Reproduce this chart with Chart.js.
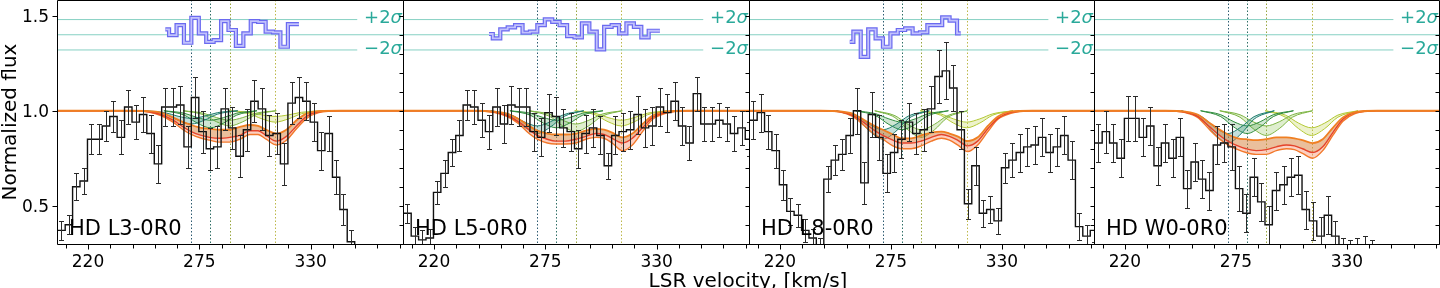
<!DOCTYPE html>
<html>
<head>
<meta charset="utf-8">
<script src="https://cdn.jsdelivr.net/npm/chart.js@4.4.1/dist/chart.umd.min.js"></script>
<style>
  html, body { margin: 0; padding: 0; background: #fff; overflow: hidden; }
  #wrap { position: relative; width: 1440px; height: 288px; }
  #wrap canvas { position: absolute; left: 0; top: 0; }
</style>
</head>
<body>
<div id="wrap">
  <canvas id="p0" width="1440" height="288"></canvas>
  <canvas id="p1" width="1440" height="288"></canvas>
  <canvas id="p2" width="1440" height="288"></canvas>
  <canvas id="p3" width="1440" height="288"></canvas>
</div>
<script>
// ---- data ----
const panelNames = ['HD L3-0R0', 'HD L5-0R0', 'HD L8-0R0', 'HD W0-0R0'];

// velocity bin centres (km/s)
const binVel = [203.2, 206.9, 210.6, 214.2, 217.9, 221.6, 225.2, 228.9, 232.6, 236.2,
  239.9, 243.6, 247.2, 250.9, 254.6, 258.2, 261.9, 265.6, 269.2, 272.9,
  276.6, 280.2, 283.9, 287.6, 291.2, 294.9, 298.6, 302.2, 305.9, 309.6,
  313.2, 316.9, 320.6, 324.2, 327.9, 331.6, 335.2, 338.9, 342.6, 346.2,
  349.9, 353.6, 357.2, 360.9, 364.6, 368.2, 371.9, 375.6, 379.2];

const fluxL3 = [0.37,0.37,0.40,0.60,0.63, 0.85,0.85,0.92,0.97,0.86, 1.02,0.94,0.98,0.88,0.72,
  1.02,1.02,1.03,0.81,1.07, 0.89,0.80,0.81,1.01,0.91, 0.76,0.90,1.05,1.01,0.87,
  0.88,0.72,1.04,1.07,1.05, 0.94,0.79,0.88,0.65,0.48, 0.31,0.22,0.20,0.20,0.20, 0.20,0.20,0.20,0.20];
const errL3 = [0.05,0.05,0.05,0.07,0.07, 0.08,0.08,0.08,0.08,0.09, 0.09,0.09,0.09,0.10,0.10,
  0.10,0.10,0.10,0.11,0.11, 0.11,0.11,0.11,0.11,0.11, 0.11,0.11,0.11,0.11,0.11,
  0.11,0.11,0.11,0.11,0.10, 0.10,0.10,0.09,0.09,0.08, 0.06,0.05,0.05,0.05,0.05, 0.05,0.05,0.05,0.05];

const fluxL5 = [0.46,0.46,0.34,0.32,0.33, 0.57,0.67,0.78,0.87,1.03, 1.02,0.95,0.89,1.02,0.93,
  1.03,1.02,1.02,0.89,0.86, 0.99,0.97,0.91,0.89,0.80, 0.88,0.91,0.87,0.71,0.87,
  0.89,0.90,0.98,0.91,0.92, 1.02,0.99,1.05,0.92,0.83, 1.09,0.93,0.93,0.95,0.93, 0.88,0.91,0.85,0.85];
const errL5 = [0.05,0.05,0.05,0.05,0.05, 0.06,0.07,0.07,0.08,0.08, 0.09,0.09,0.09,0.10,0.10,
  0.10,0.10,0.10,0.10,0.10, 0.10,0.10,0.10,0.10,0.10, 0.10,0.10,0.10,0.07,0.10,
  0.10,0.10,0.10,0.10,0.10, 0.10,0.10,0.10,0.10,0.09, 0.09,0.09,0.09,0.09,0.09, 0.09,0.09,0.09,0.09];

const fluxL8 = [0.95,0.95,0.99,0.89,0.79, 0.61,0.47,0.45,0.37,0.33, 0.28,0.64,0.74,0.77,0.87,
  1.00,0.62,0.98,0.86,0.67, 0.78,0.85,0.94,0.88,0.90, 1.01,1.18,1.21,1.12,0.90,
  0.51,0.71,0.46,0.48,0.42, 0.70,0.74,0.78,0.81,0.82, 0.86,0.78,0.81,0.87,0.74, 0.39,0.34,0.37,0.37];
const errL8 = [0.10,0.10,0.10,0.09,0.09, 0.08,0.07,0.06,0.06,0.05, 0.05,0.07,0.08,0.08,0.09,
  0.12,0.11,0.12,0.12,0.10, 0.10,0.10,0.10,0.11,0.11, 0.12,0.14,0.15,0.12,0.10,
  0.08,0.10,0.07,0.07,0.07, 0.08,0.09,0.10,0.10,0.10, 0.10,0.10,0.10,0.10,0.10, 0.07,0.06,0.06,0.06];

const fluxW0 = [0.83,0.83,0.89,0.83,0.75, 0.96,0.96,0.86,0.92,0.71, 0.83,0.75,0.86,0.59,0.73,
  0.64,0.58,0.82,0.83,0.81, 0.59,0.46,0.65,0.52,0.40, 0.58,0.61,0.65,0.66,0.48,
  0.42,0.34,0.45,0.34,0.25, 0.24,0.25,0.26,0.24,0.15, 0.15,0.15,0.15,0.15,0.15, 0.15,0.15,0.15,0.15];
const errW0 = [0.10,0.10,0.11,0.10,0.10, 0.12,0.12,0.10,0.10,0.10, 0.10,0.10,0.10,0.10,0.10,
  0.10,0.10,0.10,0.10,0.12, 0.12,0.10,0.10,0.10,0.10, 0.10,0.10,0.10,0.10,0.10,
  0.10,0.10,0.10,0.08,0.08, 0.08,0.08,0.08,0.08,0.07, 0.07,0.07,0.07,0.07,0.07, 0.07,0.07,0.07,0.07];

// fit residuals (plotted around 1.40), first bin index into binVel
const resFromL3 = 15;
const resL3 = [1.428,1.398,1.451,1.358,1.489,1.407,1.363,1.372,1.472,1.425,1.341,1.407,1.472,1.468,1.416,1.413,1.337,1.456,1.456];
const resFromL5 = 12;
const resL5 = [1.404,1.381,1.428,1.439,1.451,1.411,1.416,1.451,1.481,1.468,1.451,1.393,1.386,1.460,1.416,1.323,1.442,1.451,1.407,1.460,1.442,1.386,1.421,1.421];
const resFromL8 = 14;
const resL8 = [1.363,1.416,1.284,1.428,1.381,1.337,1.407,1.425,1.434,1.407,1.413,1.451,1.451,1.492,1.474,1.407];

// total model envelope (upper edge, centre, lower edge)
const modelVel = [200, 240, 250, 256, 262, 267, 271, 276, 280, 285, 290, 295, 300, 304, 308, 313, 318, 323, 328, 334, 345, 380];
const topL3 = [1,1,0.998,0.99,0.965,0.94,0.925,0.91,0.905,0.90,0.90,0.915,0.925,0.92,0.90,0.88,0.90,0.95,0.985,0.998,1,1];
const midL3 = [1,1,0.995,0.98,0.95,0.915,0.89,0.87,0.86,0.855,0.86,0.87,0.895,0.895,0.87,0.84,0.865,0.92,0.97,0.995,1,1];
const botL3 = [1,1,0.993,0.975,0.94,0.90,0.875,0.855,0.845,0.835,0.835,0.85,0.875,0.875,0.85,0.82,0.845,0.905,0.96,0.99,1,1];
const topL5 = [1,1,0.995,0.985,0.955,0.92,0.895,0.88,0.875,0.875,0.88,0.895,0.905,0.90,0.885,0.86,0.88,0.93,0.975,0.995,1,1];
const midL5 = [1,1,0.993,0.975,0.94,0.90,0.87,0.85,0.84,0.84,0.85,0.865,0.88,0.875,0.855,0.83,0.855,0.91,0.965,0.99,1,1];
const botL5 = [1,1,0.99,0.97,0.93,0.88,0.85,0.83,0.825,0.825,0.83,0.85,0.86,0.855,0.83,0.79,0.82,0.89,0.955,0.985,1,1];
const topL8 = [1,1,0.997,0.985,0.95,0.92,0.90,0.875,0.855,0.855,0.87,0.885,0.89,0.88,0.865,0.84,0.86,0.92,0.97,0.995,1,1];
const midL8 = [1,1,0.995,0.975,0.935,0.895,0.87,0.845,0.83,0.83,0.84,0.86,0.875,0.865,0.845,0.815,0.84,0.905,0.96,0.99,1,1];
const botL8 = [1,1,0.993,0.97,0.92,0.875,0.85,0.815,0.80,0.80,0.815,0.84,0.855,0.845,0.82,0.785,0.82,0.89,0.955,0.985,1,1];
const topW0 = [1,1,0.995,0.98,0.935,0.90,0.875,0.855,0.85,0.845,0.85,0.86,0.86,0.855,0.845,0.83,0.85,0.91,0.965,0.993,1,1];
const midW0 = [1,1,0.992,0.97,0.915,0.87,0.84,0.815,0.80,0.79,0.795,0.81,0.82,0.815,0.80,0.78,0.81,0.885,0.955,0.99,1,1];
const botW0 = [1,1,0.99,0.965,0.90,0.85,0.82,0.795,0.78,0.77,0.77,0.79,0.80,0.795,0.775,0.75,0.79,0.87,0.945,0.985,1,1];

// four velocity components
const compVel = [271, 280.5, 290, 312.5];
const compSampleVel = [
  [248, 258, 264.5, 271, 277.5, 284, 294],
  [257.5, 267.5, 274, 280.5, 287, 293.5, 303.5],
  [267, 277, 283.5, 290, 296.5, 303, 313],
  [289.5, 299.5, 306, 312.5, 319, 325.5, 335.5]
];
const compHiL3 = [[1,.990,.971,.96,.971,.990,1],[1,.987,.964,.95,.964,.987,1],[1,.987,.964,.95,.964,.987,1],[1,.992,.978,.97,.978,.992,1]];
const compLoL3 = [[1,.982,.950,.93,.950,.982,1],[1,.977,.935,.91,.935,.977,1],[1,.979,.942,.92,.942,.979,1],[1,.984,.957,.94,.957,.984,1]];
const compHiL5 = [[1,.979,.942,.92,.942,.979,1],[1,.987,.964,.95,.964,.987,1],[1,.982,.950,.93,.950,.982,1],[1,.987,.964,.95,.964,.987,1]];
const compLoL5 = [[1,.969,.914,.88,.914,.969,1],[1,.977,.935,.91,.935,.977,1],[1,.971,.921,.89,.921,.971,1],[1,.979,.942,.92,.942,.979,1]];
const compHiL8 = [[1,.974,.928,.90,.928,.974,1],[1,.984,.957,.94,.957,.984,1],[1,.974,.928,.90,.928,.974,1],[1,.984,.957,.94,.957,.984,1]];
const compLoL8 = [[1,.961,.892,.85,.892,.961,1],[1,.974,.928,.90,.928,.974,1],[1,.964,.899,.86,.899,.964,1],[1,.977,.935,.91,.935,.977,1]];
const compHiW0 = [[1,.969,.914,.88,.914,.969,1],[1,.979,.942,.92,.942,.979,1],[1,.979,.942,.92,.942,.979,1],[1,.977,.935,.91,.935,.977,1]];
const compLoW0 = [[1,.956,.878,.83,.878,.956,1],[1,.969,.914,.88,.914,.969,1],[1,.966,.906,.87,.906,.966,1],[1,.966,.906,.87,.906,.966,1]];

// guide lines for the residuals
const sigmaLevels = [1.48, 1.40, 1.32];
const sigmaLineEnd = [353, 380, 353];

// ticks
const xMajorTicks = [220, 275, 330];
const xMinorTicks = [209, 231, 242, 253, 264, 286, 297, 308, 319, 341, 352, 363, 374];
const yMajorTicks = [0.5, 1.0, 1.5];
const yAllTicks = [0.3, 0.4, 0.5, 0.6, 0.7, 0.8, 0.9, 1.0, 1.1, 1.2, 1.3, 1.4, 1.5];

// ---- styling ----
const FONT = '"DejaVu Sans", sans-serif';
const panelLeft = [57, 403, 749, 1094];
const panelWidth = [346, 346, 345, 345];
const compLine = ['#1f7d6e', '#2f8c3c', '#7db443', '#b2c834'];
const compFill = ['rgba(45,145,125,0.28)', 'rgba(60,150,70,0.24)', 'rgba(140,195,80,0.28)', 'rgba(190,210,70,0.28)'];
const vlineColors = ['#2c5a70', '#2f6f66', '#98a63e', '#bdb84a'];

const panels = [
  { flux: fluxL3, err: errL3, res: resL3, resFrom: resFromL3, top: topL3, mid: midL3, bot: botL3, hi: compHiL3, lo: compLoL3 },
  { flux: fluxL5, err: errL5, res: resL5, resFrom: resFromL5, top: topL5, mid: midL5, bot: botL5, hi: compHiL5, lo: compLoL5 },
  { flux: fluxL8, err: errL8, res: resL8, resFrom: resFromL8, top: topL8, mid: midL8, bot: botL8, hi: compHiL8, lo: compLoL8 },
  { flux: fluxW0, err: errW0, res: null, resFrom: 0, top: topW0, mid: midW0, bot: botW0, hi: compHiW0, lo: compLoW0 }
];

const pts = (xs, ys) => ys.map((y, k) => ({ x: xs[k], y: y }));

const panelDecor = {
  id: 'panelDecor',
  beforeDatasetsDraw(chart) {
    const { ctx, chartArea: a, scales: { x } } = chart;
    ctx.save();
    ctx.lineWidth = 1;
    ctx.setLineDash([1.5, 2]);
    compVel.forEach((v, c) => {
      const px = Math.round(x.getPixelForValue(v)) + 0.5;
      ctx.strokeStyle = vlineColors[c];
      ctx.beginPath();
      ctx.moveTo(px, a.top);
      ctx.lineTo(px, a.bottom);
      ctx.stroke();
    });
    ctx.restore();
  },
  afterDatasetsDraw(chart, args, opts) {
    const p = panels[opts.index];
    const { ctx, chartArea: a, scales: { x, y } } = chart;
    ctx.save();
    ctx.beginPath();
    ctx.rect(a.left, a.top, a.width, a.height);
    ctx.clip();
    // error bars
    ctx.strokeStyle = '#2b2b2b';
    ctx.lineWidth = 1;
    ctx.beginPath();
    binVel.forEach((v, k) => {
      const px = Math.round(x.getPixelForValue(v)) + 0.5;
      const y1 = Math.round(y.getPixelForValue(p.flux[k] + p.err[k])) + 0.5;
      const y2 = Math.round(y.getPixelForValue(p.flux[k] - p.err[k])) + 0.5;
      ctx.moveTo(px, y1); ctx.lineTo(px, y2);
      ctx.moveTo(px - 2.5, y1); ctx.lineTo(px + 2.5, y1);
      ctx.moveTo(px - 2.5, y2); ctx.lineTo(px + 2.5, y2);
    });
    ctx.stroke();
    ctx.restore();
  },
  afterDraw(chart, args, opts) {
    const i = opts.index;
    const { ctx, chartArea: a, scales: { x, y } } = chart;
    ctx.save();
    // sigma labels
    ctx.fillStyle = '#2aa99a';
    ctx.textBaseline = 'middle';
    [[1.48, '+2'], [1.32, '\u22122']].forEach(([lv, txt]) => {
      const py = y.getPixelForValue(lv) - 1;
      ctx.font = 'oblique 18px ' + FONT;
      const ws = ctx.measureText('\u03c3').width;
      ctx.textAlign = 'left';
      ctx.fillText('\u03c3', a.right - ws - 1, py);
      ctx.font = '18px ' + FONT;
      ctx.textAlign = 'right';
      ctx.fillText(txt, a.right - ws - 1, py);
    });
    // panel name
    ctx.fillStyle = '#000';
    ctx.font = '21px ' + FONT;
    ctx.textAlign = 'left';
    ctx.textBaseline = 'alphabetic';
    ctx.fillText(panelNames[i], a.left + 12, 235);
    // frame
    ctx.strokeStyle = '#000';
    ctx.lineWidth = 1;
    ctx.beginPath();
    ctx.moveTo(a.left + 0.5, a.top + 0.5);
    ctx.lineTo(a.right + 0.5, a.top + 0.5);
    ctx.lineTo(a.right + 0.5, a.bottom + 0.5);
    ctx.lineTo(a.left + 0.5, a.bottom + 0.5);
    ctx.closePath();
    ctx.stroke();
    // x ticks
    ctx.beginPath();
    xMajorTicks.concat(xMinorTicks).forEach(v => {
      const px = Math.round(x.getPixelForValue(v)) + 0.5;
      const len = xMajorTicks.includes(v) ? 5 : 4;
      ctx.moveTo(px, a.bottom + 0.5);
      ctx.lineTo(px, a.bottom + 0.5 + len);
    });
    // right-side inward y ticks
    yAllTicks.forEach(v => {
      const py = Math.round(y.getPixelForValue(v)) + 0.5;
      ctx.moveTo(a.right + 0.5, py);
      ctx.lineTo(a.right - 3.5, py);
    });
    if (i === 0) {
      yMajorTicks.forEach(v => {
        const py = Math.round(y.getPixelForValue(v)) + 0.5;
        ctx.moveTo(a.left + 0.5, py);
        ctx.lineTo(a.left - 4.5, py);
      });
    }
    ctx.stroke();
    // x tick labels
    ctx.font = '17px ' + FONT;
    ctx.textAlign = 'center';
    xMajorTicks.forEach(v => {
      ctx.fillText(String(v), x.getPixelForValue(v), 267);
    });
    if (i === 0) {
      ctx.textAlign = 'right';
      yMajorTicks.forEach(v => {
        ctx.fillText(v.toFixed(1), a.left - 8, y.getPixelForValue(v) + 6.5);
      });
      // axis titles
      ctx.font = '20px ' + FONT;
      ctx.textAlign = 'center';
      ctx.fillText('LSR velocity, [km/s]', 748, 286.5);
      ctx.save();
      ctx.translate(15.5, 122);
      ctx.rotate(-Math.PI / 2);
      ctx.fillText('Normalized flux', 0, 0);
      ctx.restore();
    }
    ctx.restore();
  }
};

panels.forEach((p, i) => {
  const ds = [];
  ds.push({ data: pts(binVel, p.flux), borderColor: '#111', borderWidth: 1.4, stepped: 'middle' });
  ds.push({ data: pts(modelVel, p.top), borderColor: '#f07f22', borderWidth: 1.8, cubicInterpolationMode: 'monotone' });
  ds.push({ data: pts(modelVel, p.mid), borderColor: '#e5432b', borderWidth: 1.4, cubicInterpolationMode: 'monotone',
            fill: { target: 1 }, backgroundColor: 'rgba(214,128,58,0.5)' });
  ds.push({ data: pts(modelVel, p.bot), borderColor: '#f2782a', borderWidth: 1.4, cubicInterpolationMode: 'monotone',
            fill: { target: 2 }, backgroundColor: 'rgba(248,150,118,0.45)' });
  compVel.forEach((cv, c) => {
    const hiIdx = ds.length;
    ds.push({ data: pts(compSampleVel[c], p.hi[c]), borderColor: compLine[c], borderWidth: 1, cubicInterpolationMode: 'monotone' });
    ds.push({ data: pts(compSampleVel[c], p.lo[c]), borderColor: compLine[c], borderWidth: 1, cubicInterpolationMode: 'monotone',
              fill: { target: hiIdx }, backgroundColor: compFill[c] });
  });
  if (p.res) {
    const resPts = p.res.map((r, k) => ({ x: binVel[p.resFrom + k], y: r }));
    ds.push({ data: resPts, borderColor: '#c2c2fc', borderWidth: 1.8, stepped: 'middle' });
    ds.push({ data: resPts, borderColor: '#6a6af0', borderWidth: 4.2, stepped: 'middle' });
  }
  sigmaLevels.forEach((lv, s) => {
    ds.push({ data: [{ x: 200, y: lv }, { x: sigmaLineEnd[s], y: lv }], borderColor: '#86d0c3', borderWidth: 1 });
  });

  new Chart(document.getElementById('p' + i), {
    type: 'line',
    data: { datasets: ds },
    options: {
      responsive: false,
      animation: false,
      events: [],
      layout: { padding: { left: panelLeft[i], right: 1440 - panelLeft[i] - panelWidth[i], top: 0, bottom: 44 } },
      elements: { point: { radius: 0 }, line: { fill: false, tension: 0 } },
      scales: {
        x: { type: 'linear', min: 204.7, max: 375.6, display: false },
        y: { type: 'linear', min: 0.2984, max: 1.583, display: false }
      },
      plugins: {
        legend: { display: false },
        tooltip: { enabled: false },
        panelDecor: { index: i }
      }
    },
    plugins: [panelDecor]
  });
});
</script>
</body>
</html>
